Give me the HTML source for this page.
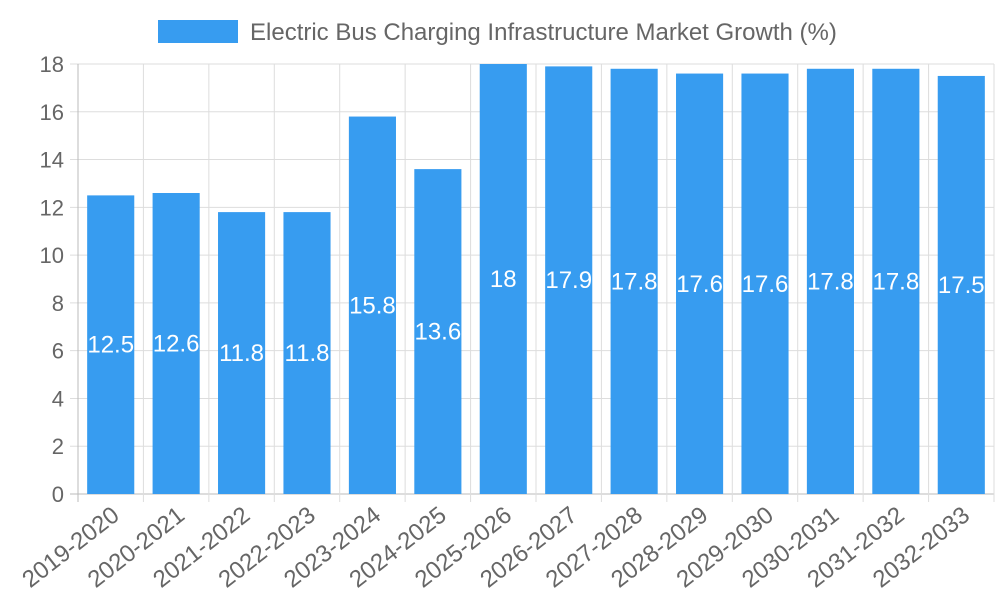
<!DOCTYPE html>
<html><head><meta charset="utf-8"><style>body{margin:0;background:#fff}svg{font-family:"Liberation Sans",sans-serif}</style></head>
<body>
<svg id="c" width="1000" height="600"></svg>
<script>
const categories=["2019-2020","2020-2021","2021-2022","2022-2023","2023-2024","2024-2025","2025-2026","2026-2027","2027-2028","2028-2029","2029-2030","2030-2031","2031-2032","2032-2033"];
const values=[12.5,12.6,11.8,11.8,15.8,13.6,18,17.9,17.8,17.6,17.6,17.8,17.8,17.5];
const yTicks=[0,2,4,6,8,10,12,14,16,18];
const svg=document.getElementById('c');const NS='http://www.w3.org/2000/svg';
const L=78,R=994,T=64,B=494,yMax=18;
const y=v=>B-(v/yMax)*(B-T);
const bw=(R-L)/categories.length;
const x=i=>L+i*bw;
function mk(t,a,p){const e=document.createElementNS(NS,t);for(const k in a)e.setAttribute(k,a[k]);(p||svg).appendChild(e);return e;}
const lg=mk('g',{});


mk('rect',{x:158,y:20,width:80,height:23,fill:'#379cf0'},lg);
const lt=mk('text',{x:250,y:40,'font-size':24,fill:'#666'},lg);lt.textContent='Electric Bus Charging Infrastructure Market Growth (%)';
yTicks.forEach(t=>{
 mk('line',{x1:L-8,x2:R,y1:y(t),y2:y(t),stroke:t===0?'#bbb':'#ddd'});
 const tx=mk('text',{x:L-14,y:y(t)+8,'text-anchor':'end','font-size':22,fill:'#666'});
 
 
 tx.textContent=t;
});
for(let i=0;i<=categories.length;i++){
 mk('line',{x1:x(i),x2:x(i),y1:T,y2:B+8,stroke:i===0?'#bbb':'#ddd'});
}
categories.forEach((c,i)=>{
 const v=values[i];const cx=x(i)+bw/2;const w=bw*0.72;
 const r=mk('rect',{x:cx-w/2,y:y(v),width:w,height:B-y(v),fill:'#379cf0'});
 
 
 const vl=mk('text',{x:cx,y:(y(v)+B)/2+8,'text-anchor':'middle','font-size':24,fill:'#fff'});
 
 
 vl.textContent=v;
 const xl=mk('text',{x:0,y:0,'text-anchor':'end','font-size':24,fill:'#666',transform:`translate(${cx+10},${B+24}) rotate(-38)`});
 
 
 xl.textContent=c;
});
</script>
</body></html>
